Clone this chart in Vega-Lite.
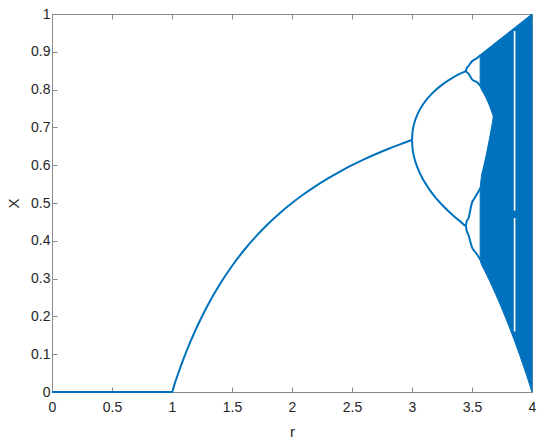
{
  "$schema": "https://vega.github.io/schema/vega-lite/v6.json",
  "width": 480,
  "height": 378,
  "autosize": "none",
  "padding": {"left": 52, "top": 14, "right": 18, "bottom": 54},
  "background": "white",
  "config": {
    "view": {"stroke": null},
    "axis": {
      "domainColor": "#8a8a8a",
      "tickColor": "#8a8a8a",
      "tickSize": -5,
      "grid": false,
      "labelFont": "Liberation Sans",
      "labelFontSize": 14,
      "labelColor": "#262626",
      "titleFont": "Liberation Sans",
      "titleFontSize": 15,
      "titleFontWeight": "normal",
      "titleColor": "#262626"
    }
  },
  "datasets": {
    "lines": [
      {"s": "base", "r": 0, "x": 0},
      {"s": "base", "r": 0.5, "x": 0},
      {"s": "base", "r": 1, "x": 0},
      {"s": "base", "r": 1.02, "x": 0.0196},
      {"s": "base", "r": 1.05, "x": 0.0476},
      {"s": "base", "r": 1.1, "x": 0.0909},
      {"s": "base", "r": 1.15, "x": 0.1304},
      {"s": "base", "r": 1.2, "x": 0.1667},
      {"s": "base", "r": 1.3, "x": 0.2308},
      {"s": "base", "r": 1.4, "x": 0.2857},
      {"s": "base", "r": 1.5, "x": 0.3333},
      {"s": "base", "r": 1.6, "x": 0.375},
      {"s": "base", "r": 1.7, "x": 0.4118},
      {"s": "base", "r": 1.8, "x": 0.4444},
      {"s": "base", "r": 1.9, "x": 0.4737},
      {"s": "base", "r": 2.0, "x": 0.5},
      {"s": "base", "r": 2.1, "x": 0.5238},
      {"s": "base", "r": 2.2, "x": 0.5455},
      {"s": "base", "r": 2.3, "x": 0.5652},
      {"s": "base", "r": 2.4, "x": 0.5833},
      {"s": "base", "r": 2.5, "x": 0.6},
      {"s": "base", "r": 2.6, "x": 0.6154},
      {"s": "base", "r": 2.7, "x": 0.6296},
      {"s": "base", "r": 2.8, "x": 0.6429},
      {"s": "base", "r": 2.9, "x": 0.6552},
      {"s": "base", "r": 3.0, "x": 0.6667},
      {"s": "A", "r": 3.0, "x": 0.6667},
      {"s": "A", "r": 3.005, "x": 0.6899},
      {"s": "A", "r": 3.01, "x": 0.6994},
      {"s": "A", "r": 3.02, "x": 0.7125},
      {"s": "A", "r": 3.05, "x": 0.7377},
      {"s": "A", "r": 3.1, "x": 0.7646},
      {"s": "A", "r": 3.15, "x": 0.784},
      {"s": "A", "r": 3.2, "x": 0.7995},
      {"s": "A", "r": 3.25, "x": 0.8124},
      {"s": "A", "r": 3.3, "x": 0.8236},
      {"s": "A", "r": 3.35, "x": 0.8334},
      {"s": "A", "r": 3.4, "x": 0.8421},
      {"s": "A", "r": 3.449, "x": 0.8499},
      {"s": "A", "r": 3.455, "x": 0.8565},
      {"s": "A", "r": 3.47, "x": 0.862},
      {"s": "A", "r": 3.5, "x": 0.875},
      {"s": "A", "r": 3.52, "x": 0.8795},
      {"s": "A", "r": 3.544, "x": 0.884},
      {"s": "A", "r": 3.57, "x": 0.891},
      {"s": "B", "r": 3.449, "x": 0.8499},
      {"s": "B", "r": 3.455, "x": 0.8465},
      {"s": "B", "r": 3.47, "x": 0.843},
      {"s": "B", "r": 3.5, "x": 0.8269},
      {"s": "B", "r": 3.52, "x": 0.823},
      {"s": "B", "r": 3.544, "x": 0.819},
      {"s": "B", "r": 3.57, "x": 0.81},
      {"s": "C", "r": 3.0, "x": 0.6667},
      {"s": "C", "r": 3.005, "x": 0.6428},
      {"s": "C", "r": 3.01, "x": 0.6328},
      {"s": "C", "r": 3.02, "x": 0.6186},
      {"s": "C", "r": 3.05, "x": 0.5902},
      {"s": "C", "r": 3.1, "x": 0.558},
      {"s": "C", "r": 3.15, "x": 0.5335},
      {"s": "C", "r": 3.2, "x": 0.513},
      {"s": "C", "r": 3.25, "x": 0.4953},
      {"s": "C", "r": 3.3, "x": 0.4794},
      {"s": "C", "r": 3.35, "x": 0.4651},
      {"s": "C", "r": 3.4, "x": 0.452},
      {"s": "C", "r": 3.449, "x": 0.44},
      {"s": "C", "r": 3.455, "x": 0.451},
      {"s": "C", "r": 3.47, "x": 0.459},
      {"s": "C", "r": 3.5, "x": 0.5009},
      {"s": "C", "r": 3.52, "x": 0.512},
      {"s": "C", "r": 3.544, "x": 0.525},
      {"s": "C", "r": 3.57, "x": 0.54},
      {"s": "D", "r": 3.449, "x": 0.44},
      {"s": "D", "r": 3.455, "x": 0.428},
      {"s": "D", "r": 3.47, "x": 0.416},
      {"s": "D", "r": 3.5, "x": 0.3828},
      {"s": "D", "r": 3.52, "x": 0.373},
      {"s": "D", "r": 3.544, "x": 0.363},
      {"s": "D", "r": 3.57, "x": 0.35}
    ],
    "bands": [
      {"band": "U", "r": 3.568, "lo": 0.809, "hi": 0.892},
      {"band": "U", "r": 3.58, "lo": 0.7992, "hi": 0.895},
      {"band": "U", "r": 3.6, "lo": 0.7885, "hi": 0.9},
      {"band": "U", "r": 3.62, "lo": 0.776, "hi": 0.905},
      {"band": "U", "r": 3.64, "lo": 0.7616, "hi": 0.91},
      {"band": "U", "r": 3.65, "lo": 0.7537, "hi": 0.9125},
      {"band": "U", "r": 3.66, "lo": 0.7453, "hi": 0.915},
      {"band": "U", "r": 3.67, "lo": 0.7363, "hi": 0.9175},
      {"band": "U", "r": 3.678, "lo": 0.7287, "hi": 0.9195},
      {"band": "L", "r": 3.568, "lo": 0.348, "hi": 0.54},
      {"band": "L", "r": 3.58, "lo": 0.3364, "hi": 0.5745},
      {"band": "L", "r": 3.6, "lo": 0.324, "hi": 0.6004},
      {"band": "L", "r": 3.62, "lo": 0.3112, "hi": 0.6292},
      {"band": "L", "r": 3.64, "lo": 0.2981, "hi": 0.6609},
      {"band": "L", "r": 3.65, "lo": 0.2914, "hi": 0.6776},
      {"band": "L", "r": 3.66, "lo": 0.2847, "hi": 0.6948},
      {"band": "L", "r": 3.67, "lo": 0.2778, "hi": 0.7126},
      {"band": "L", "r": 3.678, "lo": 0.2722, "hi": 0.7271},
      {"band": "M", "r": 3.678, "lo": 0.2722, "hi": 0.9195},
      {"band": "M", "r": 3.7, "lo": 0.2567, "hi": 0.925},
      {"band": "M", "r": 3.75, "lo": 0.2197, "hi": 0.9375},
      {"band": "M", "r": 3.8, "lo": 0.1805, "hi": 0.95},
      {"band": "M", "r": 3.85, "lo": 0.139, "hi": 0.9625},
      {"band": "M", "r": 3.9, "lo": 0.0951, "hi": 0.975},
      {"band": "M", "r": 3.95, "lo": 0.0488, "hi": 0.9875},
      {"band": "M", "r": 4.0, "lo": 0, "hi": 1}
    ],
    "gaps": [
      {"r": 3.855, "y1": 0.16, "y2": 0.46},
      {"r": 3.855, "y1": 0.48, "y2": 0.955}
    ]
  },
  "layer": [
    {
      "data": {"name": "bands"},
      "mark": {"type": "area", "color": "#0072BD", "opacity": 1, "stroke": "#0072BD", "strokeWidth": 1, "interpolate": "linear"},
      "encoding": {
        "x": {"field": "r", "type": "quantitative", "scale": {"domain": [0, 4], "nice": false, "zero": false},
          "axis": {"orient": "bottom", "values": [0, 0.5, 1, 1.5, 2, 2.5, 3, 3.5, 4], "format": "~g", "labelBaseline": "alphabetic", "labelPadding": 24, "labelFlush": false, "title": "r", "titleBaseline": "alphabetic", "titleY": 44}},
        "y": {"field": "lo", "type": "quantitative", "scale": {"domain": [0, 1], "nice": false, "zero": false},
          "axis": {"orient": "left", "values": [0, 0.1, 0.2, 0.3, 0.4, 0.5, 0.6, 0.7, 0.8, 0.9, 1], "format": "~g", "labelPadding": 7, "labelFlush": false, "title": "X", "titleAngle": -90, "titleBaseline": "alphabetic", "titleX": -34}},
        "y2": {"field": "hi"},
        "detail": {"field": "band"}
      }
    },
    {
      "data": {"name": "lines"},
      "mark": {"type": "line", "color": "#0072BD", "strokeWidth": 2, "interpolate": "monotone"},
      "encoding": {
        "x": {"field": "r", "type": "quantitative", "axis": null},
        "y": {"field": "x", "type": "quantitative", "axis": null},
        "detail": {"field": "s"}
      }
    },
    {
      "data": {"name": "gaps"},
      "mark": {"type": "rule", "color": "white", "strokeWidth": 1.6},
      "encoding": {
        "x": {"field": "r", "type": "quantitative",
          "axis": {"orient": "top", "values": [0, 0.5, 1, 1.5, 2, 2.5, 3, 3.5, 4], "labels": false, "title": null}},
        "y": {"field": "y1", "type": "quantitative",
          "axis": {"orient": "right", "values": [0, 0.1, 0.2, 0.3, 0.4, 0.5, 0.6, 0.7, 0.8, 0.9, 1], "labels": false, "title": null}},
        "y2": {"field": "y2"}
      }
    }
  ],
  "resolve": {"axis": {"x": "independent", "y": "independent"}}
}
